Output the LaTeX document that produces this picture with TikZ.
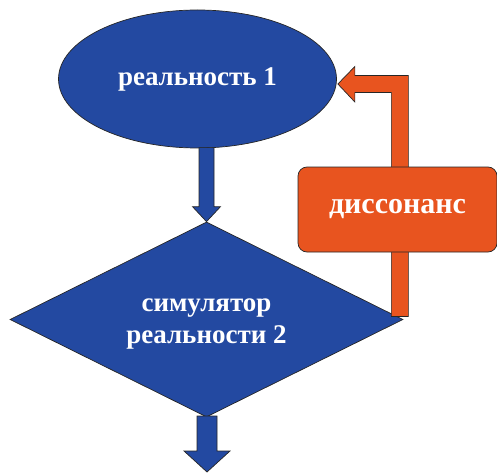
\documentclass[tikz,border=0pt]{standalone}
\usepackage{fontspec}
\setmainfont{Liberation Serif}
\usetikzlibrary{shapes.geometric,calc}
\definecolor{sblue}{HTML}{2349A1}
\definecolor{sorange}{HTML}{E8541F}
\tikzset{
  shapeline/.style={draw=black!85,line width=0.7pt},
  bluefill/.style={shapeline,fill=sblue},
  orangefill/.style={shapeline,fill=sorange},
  lbl/.style={text=white,font=\bfseries\fontsize{27}{32}\selectfont,align=center,inner sep=0pt}
}
\begin{document}
\begin{tikzpicture}[x=1pt,y=-1pt]
\useasboundingbox (0,0) rectangle (497,473);
% shapes
\node[bluefill,ellipse,minimum width=278pt,minimum height=138pt,inner sep=0pt] (ell) at (197.5,79) {};
\node[bluefill,diamond,aspect=2,minimum width=393pt,minimum height=195pt,inner sep=0pt] (dia) at (206.5,319.5) {};
% blue arrow ellipse -> diamond
\draw[bluefill] ($(dia.north)+(-7.5,-74)$) -- ++(15,0) -- ++(0,59) -- ++(6.5,0)
  -- (dia.north) -- ++(-14,-15) -- ++(6.5,0) -- cycle;
% blue arrow out of diamond
\coordinate (out) at (207,472);
\draw[bluefill] ($(out)+(-10,-56)$) -- ++(20,0) -- ++(0,35) -- ++(13,0)
  -- (out) -- ++(-23,-21) -- ++(13,0) -- cycle;
% orange feedback arrow diamond -> ellipse
\coordinate (sb) at ($(dia.east)+(-12,-3)$);
\coordinate (ft) at ($(ell.east)+(1,5)$);
\draw[orangefill] (sb) -- ++(17,0) |- ($(ft)+(17,-8.5)$) -- ++(0,-9) -- (ft)
  -- ($(ft)+(17,18)$) -- ++(0,-9.5) -| (sb) -- cycle;
% box
\node[orangefill,rounded corners=9pt,minimum width=199pt,minimum height=85pt,inner sep=0pt] (box) at (397.5,209.5) {};
% labels
\node[lbl] (t1) at (ell.center) {реальность 1};
\node[lbl,yshift=-5pt] (t2) at (dia.center) {симулятор\\реальности 2};
\node[lbl,font=\bfseries\fontsize{30}{34}\selectfont] (t3) at (box.center) {диссонанс};
\end{tikzpicture}
\end{document}
